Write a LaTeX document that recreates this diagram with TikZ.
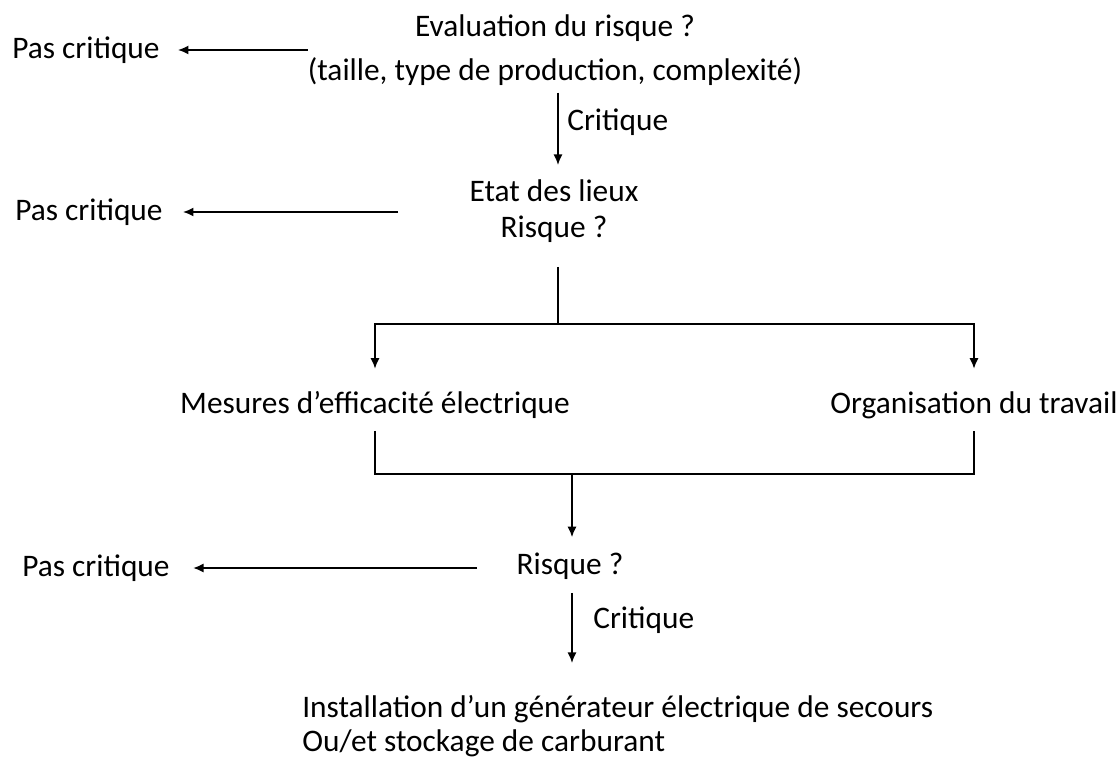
\documentclass[tikz,border=0pt]{standalone}
\usepackage{fontspec}
\setmainfont{Carlito}
\usepackage{tikz}
\usetikzlibrary{arrows.meta}

\begin{document}
\begin{tikzpicture}[
  x=0.025cm, y=-0.025cm,
  >={Latex[length=7.5pt,width=6.5pt]},
  every node/.style={font=\fontsize{22.3}{26}\selectfont, inner sep=0pt},
  lbl/.style={align=center},
  nocrit/.style={anchor=west},
  link/.style={line width=1.3pt},
  flow/.style={link, ->}
]
\useasboundingbox (0,0) rectangle (1117,760);

% first check
\node[lbl] (eval) at (555,50) {Evaluation du risque ?\\[5pt](taille, type de production, complexité)};
\node[nocrit] (pc1) at (12,50) {Pas critique};
\node[nocrit] (crit1) at (567,122) {Critique};
\node[lbl] (etat) at (554,211) {Etat des lieux\\Risque ?};
\node[nocrit] (pc2) at (15,212) {Pas critique};

% the two kinds of measures
\node[lbl] (mes) at (375,405) {Mesures d’efficacité électrique};
\node[lbl] (org) at (974,405) {Organisation du travail};

% second check
\node[lbl] (risk) at (570,566) {Risque ?};
\node[nocrit] (pc3) at (22,568) {Pas critique};
\node[nocrit] (crit2) at (593,620) {Critique};
\node[anchor=north west, align=left, font=\fontsize{22.3}{24}\selectfont] (inst) at (302,695)
  {Installation d’un générateur électrique de secours\\Ou/et stockage de carburant};

\coordinate (split) at (558,324);
\coordinate (jl) at (375,474);
\coordinate (jr) at (974,474);
\coordinate (merge) at (572,474);
\coordinate (s2) at (398,212);
\coordinate (s3) at (477,568);

\draw[flow, shorten >=0.45cm] (eval.west) -- (pc1.east);
\draw[flow, shorten <=0.18cm, shorten >=0.35cm] (eval.south -| split) -- (split |- etat.north);
\draw[flow, shorten >=0.5cm] (s2) -- (pc2.east);
\draw[link, shorten <=0.6cm] (split |- etat.south) -- (split);
\draw[flow, shorten >=0.56cm] (split) -| (mes.north);
\draw[flow, shorten >=0.56cm] (split) -| (org.north);
\draw[link, shorten <=0.3cm, shorten >=0.3cm] (mes.south) |- (jr) -- (org.south);
\draw[flow, shorten >=0.38cm] (merge) -- (merge |- risk.north);
\draw[flow, shorten >=0.58cm] (s3) -- (pc3.east);
\draw[flow, shorten <=0.33cm, shorten >=0.8cm] (merge |- risk.south) -- (merge |- inst.north);
\end{tikzpicture}
\end{document}
